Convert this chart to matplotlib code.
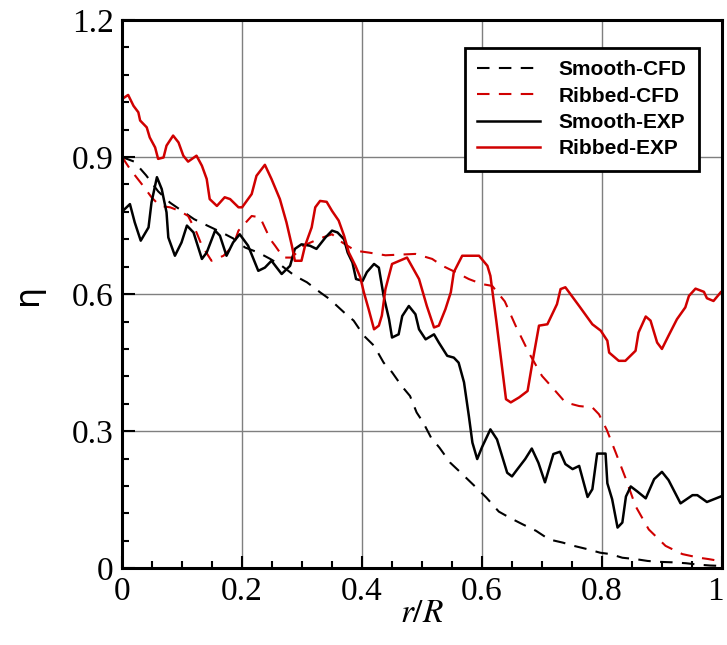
import numpy as np
import matplotlib.pyplot as plt
from matplotlib.ticker import MultipleLocator, FuncFormatter
from matplotlib.transforms import ScaledTranslation

plt.rcParams['mathtext.fontset'] = 'stix'

# ---- data ----
smooth_cfd_x = [0.0, 0.02, 0.04, 0.06, 0.08, 0.1, 0.12, 0.142, 0.166, 0.185, 0.205, 0.227,
                0.247, 0.266, 0.288, 0.308, 0.33, 0.346, 0.37, 0.386, 0.403, 0.42, 0.436,
                0.45, 0.466, 0.48, 0.491, 0.502, 0.515, 0.529, 0.547, 0.564, 0.59, 0.607,
                0.628, 0.647, 0.668, 0.69, 0.712, 0.735, 0.753, 0.775, 0.797, 0.814,
                0.834, 0.856, 0.876, 0.895, 0.917, 0.94, 0.96, 0.98, 1.0]
smooth_cfd_y = [0.9, 0.89, 0.86, 0.825, 0.8, 0.782, 0.764, 0.75, 0.735, 0.722, 0.702, 0.691,
                0.677, 0.662, 0.64, 0.626, 0.604, 0.589, 0.56, 0.542, 0.509, 0.487, 0.45,
                0.429, 0.399, 0.377, 0.341, 0.319, 0.286, 0.264, 0.231, 0.21, 0.177, 0.155,
                0.124, 0.11, 0.096, 0.082, 0.063, 0.056, 0.049, 0.042, 0.034, 0.031,
                0.023, 0.02, 0.016, 0.014, 0.013, 0.011, 0.008, 0.006, 0.005]

ribbed_cfd_x = [0.0, 0.013, 0.035, 0.049, 0.063, 0.08, 0.096, 0.11, 0.124, 0.133, 0.149,
                0.169, 0.185, 0.194, 0.216, 0.23, 0.247, 0.255, 0.269, 0.283, 0.302, 0.33,
                0.35, 0.367, 0.389, 0.411, 0.439, 0.489, 0.517, 0.534, 0.556, 0.578, 0.6,
                0.617, 0.638, 0.656, 0.678, 0.7, 0.717, 0.739, 0.762, 0.784, 0.795, 0.808,
                0.823, 0.84, 0.856, 0.878, 0.906, 0.934, 0.962, 0.978, 1.0]
ribbed_cfd_y = [0.9, 0.874, 0.837, 0.812, 0.793, 0.79, 0.782, 0.771, 0.735, 0.706, 0.673,
                0.684, 0.706, 0.739, 0.771, 0.768, 0.72, 0.706, 0.68, 0.68, 0.706, 0.722,
                0.731, 0.713, 0.695, 0.691, 0.685, 0.688, 0.677, 0.662, 0.648, 0.633, 0.622,
                0.618, 0.584, 0.531, 0.472, 0.421, 0.396, 0.363, 0.355, 0.352, 0.337, 0.303,
                0.253, 0.195, 0.136, 0.085, 0.049, 0.031, 0.023, 0.02, 0.015]

smooth_exp_x = [0.001, 0.013, 0.021, 0.031, 0.044, 0.049, 0.058, 0.066, 0.074, 0.077, 0.088,
                0.099, 0.108, 0.119, 0.133, 0.141, 0.155, 0.163, 0.174, 0.185, 0.196, 0.21,
                0.227, 0.238, 0.249, 0.266, 0.28, 0.288, 0.299, 0.313, 0.324, 0.339, 0.35,
                0.359, 0.37, 0.376, 0.384, 0.39, 0.401, 0.408, 0.42, 0.428, 0.436, 0.445,
                0.45, 0.461, 0.467, 0.478, 0.489, 0.495, 0.506, 0.52, 0.528, 0.542, 0.553,
                0.561, 0.57, 0.578, 0.584, 0.592, 0.6, 0.614, 0.625, 0.642, 0.65, 0.658,
                0.672, 0.683, 0.694, 0.705, 0.719, 0.73, 0.739, 0.751, 0.762, 0.776, 0.784,
                0.792, 0.806, 0.809, 0.817, 0.826, 0.834, 0.84, 0.848, 0.859, 0.873, 0.887,
                0.9, 0.911, 0.931, 0.951, 0.959, 0.975, 0.998]
smooth_exp_y = [0.782, 0.797, 0.757, 0.717, 0.746, 0.801, 0.856, 0.83, 0.779, 0.724, 0.684,
                0.713, 0.75, 0.735, 0.677, 0.691, 0.739, 0.728, 0.684, 0.713, 0.731, 0.706,
                0.651, 0.658, 0.673, 0.644, 0.662, 0.699, 0.709, 0.706, 0.699, 0.724, 0.739,
                0.735, 0.72, 0.691, 0.669, 0.633, 0.629, 0.648, 0.666, 0.658, 0.596, 0.545,
                0.505, 0.512, 0.552, 0.574, 0.556, 0.523, 0.501, 0.512, 0.494, 0.465, 0.461,
                0.45, 0.407, 0.334, 0.275, 0.239, 0.265, 0.304, 0.282, 0.209, 0.201, 0.215,
                0.239, 0.262, 0.231, 0.188, 0.25, 0.255, 0.228, 0.217, 0.224, 0.156, 0.173,
                0.251, 0.251, 0.186, 0.151, 0.089, 0.1, 0.157, 0.179, 0.168, 0.153, 0.195,
                0.211, 0.193, 0.142, 0.16, 0.16, 0.145, 0.157]

ribbed_exp_x = [0.0, 0.01, 0.019, 0.027, 0.03, 0.041, 0.046, 0.055, 0.06, 0.069, 0.074,
                0.085, 0.094, 0.102, 0.11, 0.124, 0.133, 0.141, 0.146, 0.158, 0.171, 0.18,
                0.194, 0.2, 0.216, 0.224, 0.238, 0.249, 0.263, 0.274, 0.283, 0.288, 0.299,
                0.305, 0.316, 0.322, 0.33, 0.341, 0.35, 0.361, 0.37, 0.378, 0.389, 0.397,
                0.403, 0.411, 0.42, 0.428, 0.433, 0.439, 0.45, 0.475, 0.495, 0.508, 0.52,
                0.528, 0.539, 0.548, 0.553, 0.567, 0.595, 0.609, 0.614, 0.624, 0.64, 0.648,
                0.662, 0.676, 0.684, 0.695, 0.709, 0.725, 0.731, 0.739, 0.762, 0.784, 0.798,
                0.809, 0.812, 0.828, 0.839, 0.856, 0.861, 0.873, 0.881, 0.892, 0.9, 0.911,
                0.925, 0.939, 0.945, 0.956, 0.97, 0.975, 0.986, 0.998]
ribbed_exp_y = [1.027, 1.036, 1.012, 0.998, 0.98, 0.965, 0.943, 0.921, 0.896, 0.899, 0.925,
                0.947, 0.932, 0.903, 0.89, 0.903, 0.881, 0.852, 0.808, 0.793, 0.812, 0.808,
                0.79, 0.79, 0.819, 0.859, 0.883, 0.852, 0.808, 0.757, 0.706, 0.673, 0.673,
                0.706, 0.746, 0.79, 0.804, 0.802, 0.782, 0.761, 0.728, 0.691, 0.662, 0.637,
                0.604, 0.567, 0.523, 0.531, 0.553, 0.611, 0.666, 0.68, 0.633, 0.574, 0.527,
                0.531, 0.567, 0.604, 0.648, 0.684, 0.684, 0.662, 0.64, 0.54, 0.37, 0.363,
                0.374, 0.388, 0.45, 0.531, 0.534, 0.578, 0.611, 0.615, 0.574, 0.534, 0.52,
                0.498, 0.472, 0.454, 0.454, 0.476, 0.516, 0.551, 0.542, 0.494, 0.48, 0.509,
                0.545, 0.571, 0.596, 0.612, 0.605, 0.591, 0.585, 0.604]

red = '#d00000'

fig = plt.figure(figsize=(7.27, 6.45), dpi=100)
ax = fig.add_axes([0.168, 0.119, 0.825, 0.85])

dash = (0, (6, 4.5))
ax.plot(smooth_cfd_x, smooth_cfd_y, color='black', lw=1.5, linestyle=dash, label='Smooth-CFD')
ax.plot(ribbed_cfd_x, ribbed_cfd_y, color=red, lw=1.5, linestyle=dash, label='Ribbed-CFD')
ax.plot(smooth_exp_x, smooth_exp_y, color='black', lw=1.8, label='Smooth-EXP')
ax.plot(ribbed_exp_x, ribbed_exp_y, color=red, lw=1.8, label='Ribbed-EXP')

ax.set_xlim(0, 1)
ax.set_ylim(0, 1.2)
ax.xaxis.set_major_locator(MultipleLocator(0.2))
ax.xaxis.set_minor_locator(MultipleLocator(0.05))
ax.yaxis.set_major_locator(MultipleLocator(0.3))
ax.yaxis.set_minor_locator(MultipleLocator(0.06))
fmt = FuncFormatter(lambda v, p: '%g' % round(v, 2))
ax.xaxis.set_major_formatter(fmt)
ax.yaxis.set_major_formatter(fmt)

ax.grid(True, which='major', color='#7f7f7f', lw=1.0)
ax.set_axisbelow(True)
ax.tick_params(which='both', direction='in', top=False, right=False, width=1.5)
ax.tick_params(which='major', length=9, labelsize=24, pad=6,
               labelfontfamily='Liberation Serif')
ax.tick_params(which='minor', length=5)
for s in ax.spines.values():
    s.set_linewidth(2.2)

ax.set_xlabel('$r/R$', fontsize=24, labelpad=-8)
ax.set_ylabel('η', fontsize=24, family='DejaVu Sans', labelpad=20)

leg = ax.legend(loc='upper right', bbox_to_anchor=(0.962, 0.949), borderaxespad=0,
                fancybox=False, edgecolor='black', framealpha=1, handlelength=3.0,
                handletextpad=0.9, labelspacing=0.35, borderpad=0.6,
                prop={'family': 'Liberation Sans', 'weight': 'bold', 'size': 15})
leg.get_frame().set_linewidth(2)

# last x label sits at the figure edge; nudge it in a little
fig.canvas.draw()
for tick in ax.xaxis.get_major_ticks():
    if abs(tick.get_loc() - 1.0) < 1e-6:
        lab = tick.label1
        lab.set_transform(lab.get_transform() + ScaledTranslation(-0.06, 0, fig.dpi_scale_trans))

fig.savefig('out.png', dpi=100)
